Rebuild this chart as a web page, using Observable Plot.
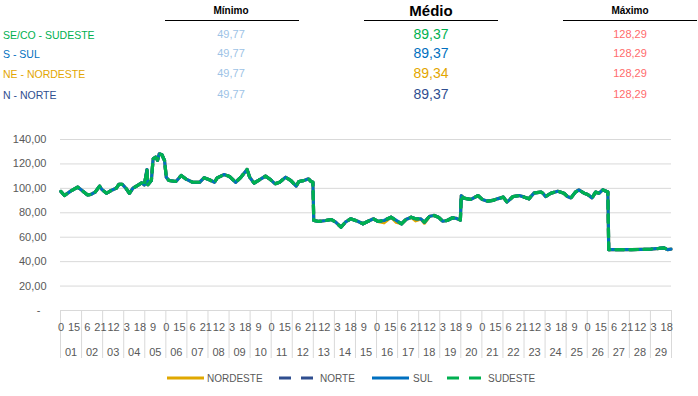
<!DOCTYPE html>
<html><head><meta charset="utf-8">
<script src="https://cdn.jsdelivr.net/npm/d3@7"></script>
<script src="https://cdn.jsdelivr.net/npm/@observablehq/plot@0.6"></script>
<style>
body{margin:0;background:#fff;font-family:"Liberation Sans",Arial,sans-serif;}
#wrap{position:relative;width:698px;height:396px;overflow:hidden;background:#fff;}
.abs{position:absolute;white-space:nowrap;}
</style></head><body><div id="wrap"></div>
<script>
// ---- header table ----
const regioes = ["SE/CO - SUDESTE", "S - SUL", "NE - NORDESTE", "N - NORTE"];
const coresRegiao = ["#00B050", "#0070C0", "#E3A600", "#2F4E8F"];
const minimos = ["49,77", "49,77", "49,77", "49,77"];
const medios = ["89,37", "89,37", "89,34", "89,37"];
const maximos = ["128,29", "128,29", "128,29", "128,29"];
const colunas = ["Mínimo", "Médio", "Máximo"];

// ---- chart data (hour index from day 01 hour 0, price) ----
const horas = [0,4,11,19,23,30,34,39,44,47,52,57,63,66,70,74,78,82,87,92,95,98,99,103,105,108,110,112,115,118,120,123,131,137,142,150,158,163,169,175,178,186,192,199,205,212,215,220,226,233,239,244,249,256,262,268,271,277,282,285,287,288,294,302,308,313,319,324,330,338,344,350,356,361,368,376,382,388,393,399,404,410,414,420,425,430,435,440,446,450,455,456,459,467,475,480,486,492,497,504,508,515,522,528,533,539,547,549,552,558,566,573,577,581,586,590,596,600,605,609,613,617,621,623,624,650,672,681,687,691,695];
const sudeste = [97.4,94.1,97.7,101,98.8,94.7,95,96.9,101.8,98.8,96,98.2,100.1,103.2,103.2,100.1,96,100.1,102.3,104.5,102.7,115.4,103,106.4,124.2,125.5,123,128.3,127.5,122.8,109.1,106.4,105.6,110.5,107.8,105,105,108.6,107,105,108.6,111.3,109.7,105,109.1,115.4,109.1,104.3,107,110,107,103.7,105,109.1,106.4,101.8,105.6,106.4,107.8,105.6,105,73.7,72.9,73.7,74.5,72.3,68.2,72.3,75.1,73.1,71,73.1,75.1,72.9,73.7,76.4,73.7,71,74.5,76.4,75.1,75,72.3,77.2,77.8,76.4,73.1,73.7,75.9,75.5,74,94.1,92,90.9,94.1,90.9,89.5,90.1,91.4,92.8,88.7,93.3,94.1,92.8,91.4,96.3,96.9,96,93.3,96,97.7,96,93.3,92.2,96.9,98.8,96,95,92.2,96.9,96,98.8,97.7,97,49.8,49.8,50.3,50.8,51.3,49.8,50.2];
const sul = sudeste;
const norte = sudeste;
// Nordeste differs from the others only at a few hours
const nordesteHorasDif = [368, 382, 404, 414];
const nordesteValoresDif = [71.8, 72.2, 73.4, 71.5];
const nordeste = sudeste.map((v, i) => {
  const k = nordesteHorasDif.indexOf(horas[i]);
  return k >= 0 ? nordesteValoresDif[k] : v;
});

const series = ["NORDESTE", "NORTE", "SUL", "SUDESTE"];
const valoresSerie = [nordeste, norte, sul, sudeste];
const coresSerie = ["#E0A800", "#2F4E8F", "#0070C0", "#00B050"];
const tracos = [null, "8,6", null, "8,6"];

// ---- axis labels ----
const ticksY = [0, 20, 40, 60, 80, 100, 120, 140];
const dias = ["01","02","03","04","05","06","07","08","09","10","11","12","13","14","15","16","17","18","19","20","21","22","23","24","25","26","27","28","29"];
const rotulosHora = [0,15,6,21,12,3,18,9, 0,15,6,21,12,3,18,9, 0,15,6,21,12,3,18,9, 0,15,6,21,12,3,18,9, 0,15,6,21,12,3,18,9, 0,15,6,21,12,3,18,9];
const passoRotulo = 15;
const horasPorDia = 24;

const wrap = document.getElementById("wrap");
function addDiv(text, style) {
  const d = document.createElement("div");
  d.className = "abs";
  d.textContent = text;
  Object.assign(d.style, style);
  wrap.appendChild(d);
  return d;
}

// header titles + underlines
const centrosCol = [231, 431, 630];
const linhaIni = [165, 364, 563];
colunas.forEach((c, i) => {
  addDiv(c, {left: (centrosCol[i] - 60) + "px", width: "120px", textAlign: "center",
    top: i === 1 ? "2px" : "5px", fontWeight: "bold", fontSize: i === 1 ? "15px" : "10px", color: "#000"});
  addDiv("", {left: linhaIni[i] + "px", top: "20px", width: "134px", height: "0", borderTop: "1px solid #000"});
});
const rowsY = [35, 54, 74, 95];
regioes.forEach((r, i) => {
  addDiv(r, {left: "3px", top: (rowsY[i] - 7) + "px", fontSize: "10.5px", lineHeight: "14px", color: coresRegiao[i]});
  addDiv(minimos[i], {left: (centrosCol[0] - 40) + "px", width: "80px", textAlign: "center", top: (rowsY[i] - 8) + "px", fontSize: "11px", lineHeight: "14px", color: "#9DC3E6"});
  addDiv(medios[i], {left: (centrosCol[1] - 40) + "px", width: "80px", textAlign: "center", top: (rowsY[i] - 9) + "px", fontSize: "14px", lineHeight: "16px", color: coresRegiao[i]});
  addDiv(maximos[i], {left: (centrosCol[2] - 40) + "px", width: "80px", textAlign: "center", top: (rowsY[i] - 8) + "px", fontSize: "11px", lineHeight: "14px", color: "#FF6B6B"});
});

// ---- chart ----
const total = dias.length * horasPorDia;
const limites = d3.range(0, dias.length + 1).map(d => d * horasPorDia);
const rotH = rotulosHora.map((t, i) => ({x: i * passoRotulo + 0.5, t: String(t)})).filter(d => d.x < total);
const rotD = dias.map((t, i) => ({x: (i + 0.5) * horasPorDia, t}));

const lineMarks = series.map((s, k) => Plot.line(
  horas.map((h, i) => ({h: h + 0.5, v: valoresSerie[k][i]})),
  {x: "h", y: "v", stroke: coresSerie[k], strokeWidth: 3.2, strokeDasharray: tracos[k] || undefined, strokeLinejoin: "round"}
));

const chart = Plot.plot({
  width: 698, height: 245,
  marginTop: 19, marginBottom: 55, marginLeft: 60, marginRight: 27,
  style: {fontFamily: "'Liberation Sans', Arial, sans-serif", fontSize: "11px", color: "#595959", background: "#fff"},
  x: {domain: [0, total], axis: null},
  y: {domain: [0, 140], axis: null},
  marks: [
    Plot.gridY(ticksY.filter(d => d > 0), {stroke: "#d9d9d9", strokeOpacity: 1}),
    Plot.ruleY([0], {stroke: "#d9d9d9"}),
    Plot.axisY({ticks: ticksY, tickSize: 0, tickPadding: 14, label: null,
      tickFormat: d => d === 0 ? "-\u2007" : d.toFixed(2).replace(".", ","), fill: "#595959"}),
    Plot.axisX({ticks: limites, tickSize: 48, tickFormat: () => "", stroke: "#d9d9d9", label: null}),
    Plot.text(rotH, {x: "x", text: "t", frameAnchor: "bottom", dy: 17, lineAnchor: "middle", fill: "#595959"}),
    Plot.text(rotD, {x: "x", text: "t", frameAnchor: "bottom", dy: 42, lineAnchor: "middle", fill: "#595959"}),
    ...lineMarks
  ]
});
chart.style.position = "absolute";
chart.style.left = "0px";
chart.style.top = "120px";
wrap.appendChild(chart);

// ---- legend ----
const leg = d3.select(wrap).append("svg")
  .attr("width", 698).attr("height", 20)
  .style("position", "absolute").style("left", "0px").style("top", "368px");
const legX = [167, 279, 372, 447];
const legTx = [207, 320, 413, 488];
series.forEach((s, k) => {
  leg.append("line").attr("x1", legX[k]).attr("x2", legX[k] + (tracos[k] ? 34 : 37))
    .attr("y1", 10).attr("y2", 10).attr("stroke", coresSerie[k]).attr("stroke-width", 3)
    .attr("stroke-dasharray", tracos[k] ? "12,10" : null);
  leg.append("text").attr("x", legTx[k]).attr("y", 10).attr("dy", "0.35em")
    .attr("font-size", 10).attr("fill", "#595959")
    .attr("font-family", "'Liberation Sans', Arial, sans-serif").text(s);
});
</script></body></html>
